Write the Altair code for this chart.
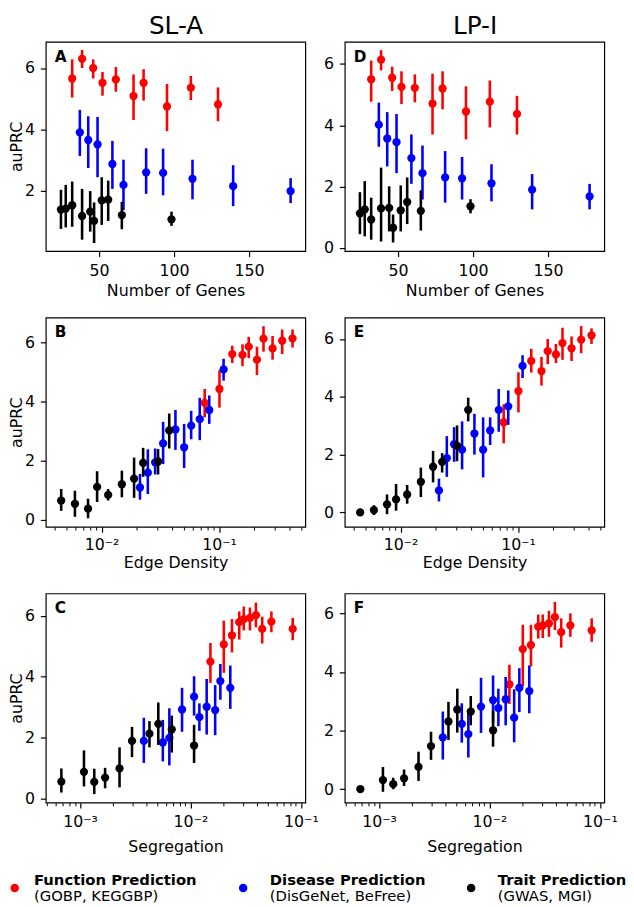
import altair as alt
import pandas as pd

GROUPS = ["Function Prediction", "Disease Prediction", "Trait Prediction"]
SUBLABELS = ["(GOBP, KEGGBP)", "(DisGeNet, BeFree)", "(GWAS, MGI)"]
COLORS = ["#ff0000", "#0000ff", "#000000"]
COLUMN_TITLES = ["SL-A", "LP-I"]

# ---- x values (shared by both networks) ----
GENES_FUNC = [32.1, 38.7, 46.1, 52.3, 61.2, 73.0, 79.7, 95.3, 111.2, 129.3]
GENES_DISEASE = [37.2, 42.8, 49.0, 58.9, 66.3, 81.4, 92.7, 112.3, 139.4, 177.7]
GENES_TRAIT = [24.6, 27.8, 32.1, 38.7, 44.1, 46.7, 51.8, 56.1, 65.2, 98.3]

EDGE_FUNC = [0.0755, 0.1009, 0.1297, 0.1585, 0.1791, 0.2104, 0.2393, 0.2858, 0.3451, 0.4227]
EDGE_DISEASE = [0.02123, 0.02477, 0.02858, 0.03342, 0.04256, 0.05047, 0.05794, 0.06855, 0.0826, 0.1094]
EDGE_TRAIT = [0.00453, 0.00593, 0.00767, 0.00916, 0.01138, 0.01489, 0.01892, 0.02259, 0.03027, 0.03767]

SEG_FUNC = [0.01517, 0.02005, 0.02377, 0.02767, 0.03041, 0.03459, 0.03917, 0.04467, 0.05408, 0.08433]
SEG_DISEASE = [0.003784, 0.005623, 0.006442, 0.008395, 0.01079, 0.01205, 0.01403, 0.01675, 0.01866, 0.02296]
SEG_TRAIT = [0.000678, 0.001086, 0.001346, 0.001687, 0.00228, 0.002958, 0.004256, 0.005117, 0.006776, 0.01079]

# ---- Panel A (SL-A, Number of Genes) ----
A_FUNC = [5.66, 6.30, 6.00, 5.52, 5.63, 5.09, 5.52, 4.75, 5.36, 4.82]
A_FUNC_LO = [5.04, 6.00, 5.66, 5.10, 5.23, 4.31, 4.94, 3.95, 4.96, 4.27]
A_FUNC_HI = [6.28, 6.59, 6.28, 5.87, 6.03, 5.79, 5.96, 5.48, 5.74, 5.37]
A_DIS = [3.91, 3.66, 3.52, 2.88, 2.20, 2.61, 2.59, 2.40, 2.16, 2.00]
A_DIS_LO = [3.14, 2.75, 2.45, 2.07, 1.38, 1.91, 1.86, 1.73, 1.51, 1.61]
A_DIS_HI = [4.64, 4.43, 4.41, 3.63, 3.02, 3.39, 3.38, 3.02, 2.84, 2.42]
A_TRAIT = [1.40, 1.43, 1.54, 1.19, 1.33, 1.03, 1.70, 1.72, 1.22, 1.08]
A_TRAIT_LO = [0.77, 0.82, 0.84, 0.42, 0.68, 0.31, 0.90, 1.03, 0.76, 0.87]
A_TRAIT_HI = [2.04, 2.20, 2.31, 2.07, 2.00, 1.63, 2.45, 2.34, 1.65, 1.33]

# ---- Panel D (LP-I, Number of Genes) ----
D_FUNC = [5.50, 6.14, 5.55, 5.25, 5.22, 4.71, 5.20, 4.45, 4.77, 4.37]
D_FUNC_LO = [4.77, 5.79, 5.12, 4.69, 4.75, 3.70, 4.52, 3.54, 3.93, 3.70]
D_FUNC_HI = [6.11, 6.45, 5.91, 5.76, 5.66, 5.68, 5.76, 5.27, 5.46, 4.96]
D_DIS = [4.02, 3.57, 3.45, 2.93, 2.44, 2.30, 2.27, 2.11, 1.90, 1.68]
D_DIS_LO = [3.30, 2.66, 2.44, 2.09, 1.58, 1.48, 1.58, 1.52, 1.26, 1.26]
D_DIS_HI = [4.74, 4.43, 4.37, 3.70, 3.34, 3.16, 2.97, 2.73, 2.41, 2.09]
D_TRAIT = [1.13, 1.26, 0.93, 1.29, 1.31, 0.66, 1.23, 1.50, 1.21, 1.36]
D_TRAIT_LO = [0.45, 0.38, 0.27, 0.21, 0.54, 0.18, 0.54, 0.78, 0.57, 1.13]
D_TRAIT_HI = [1.82, 2.18, 1.64, 2.62, 2.01, 1.09, 2.04, 2.30, 1.88, 1.59]

# ---- Panel B (SL-A, Edge Density) ----
B_FUNC = [3.96, 4.43, 5.61, 5.58, 5.86, 5.42, 6.13, 5.80, 6.06, 6.14]
B_FUNC_LO = [3.47, 3.80, 5.31, 5.20, 5.47, 4.90, 5.69, 5.42, 5.61, 5.83]
B_FUNC_HI = [4.43, 5.06, 5.89, 5.94, 6.19, 5.86, 6.55, 6.22, 6.44, 6.44]
B_DIS = [1.10, 1.60, 1.95, 2.59, 3.06, 2.46, 3.19, 3.41, 3.72, 5.09]
B_DIS_LO = [0.69, 0.88, 1.54, 1.89, 2.37, 1.76, 2.73, 2.70, 3.25, 4.71]
B_DIS_HI = [1.56, 2.39, 2.42, 3.32, 3.72, 3.25, 3.69, 4.13, 4.21, 5.45]
B_TRAIT = [0.66, 0.55, 0.385, 1.12, 0.85, 1.21, 1.40, 1.93, 1.98, 3.03]
B_TRAIT_LO = [0.31, 0.11, 0.06, 0.61, 0.66, 0.77, 0.75, 1.46, 1.54, 2.42]
B_TRAIT_HI = [1.05, 0.99, 0.72, 1.65, 1.05, 1.67, 2.11, 2.44, 2.40, 3.60]

# ---- Panel E (LP-I, Edge Density) ----
E_FUNC = [3.12, 4.20, 5.24, 4.89, 5.58, 5.47, 5.86, 5.68, 5.98, 6.13]
E_FUNC_LO = [2.39, 3.46, 4.84, 4.39, 5.13, 5.17, 5.28, 5.24, 5.51, 5.83]
E_FUNC_HI = [3.74, 4.85, 5.66, 5.38, 6.00, 5.83, 6.39, 6.09, 6.45, 6.37]
E_DIS = [0.76, 1.88, 2.36, 2.17, 2.73, 2.17, 2.84, 3.55, 3.67, 5.07]
E_DIS_LO = [0.38, 1.23, 1.75, 1.49, 2.00, 1.21, 2.33, 2.79, 3.03, 4.65]
E_DIS_HI = [1.17, 2.64, 2.95, 3.15, 3.41, 3.29, 3.29, 4.27, 4.22, 5.44]
E_TRAIT = [0.0, 0.08, 0.28, 0.45, 0.62, 1.06, 1.58, 1.75, 2.31, 3.55]
E_TRAIT_LO = [-0.08, -0.09, -0.06, 0.06, 0.30, 0.53, 1.04, 1.38, 1.77, 3.15]
E_TRAIT_HI = [0.08, 0.25, 0.62, 0.98, 0.95, 1.55, 2.13, 2.05, 3.01, 3.97]

# ---- Panel C (SL-A, Segregation) ----
C_FUNC = [4.50, 5.06, 5.36, 5.79, 5.89, 5.93, 6.02, 5.57, 5.81, 5.57]
C_FUNC_LO = [3.80, 4.13, 4.80, 5.22, 5.52, 5.52, 5.62, 5.09, 5.46, 5.20]
C_FUNC_HI = [5.11, 5.84, 5.89, 6.14, 6.30, 6.27, 6.43, 5.97, 6.14, 5.93]
C_DIS = [1.90, 1.85, 2.00, 2.93, 3.35, 2.68, 3.02, 2.91, 3.86, 3.64]
C_DIS_LO = [1.18, 1.23, 1.10, 2.20, 2.73, 2.23, 2.11, 2.09, 3.25, 2.95]
C_DIS_HI = [2.66, 2.59, 2.97, 3.64, 4.02, 3.13, 3.93, 3.73, 4.42, 4.37]
C_TRAIT = [0.57, 0.89, 0.56, 0.70, 1.00, 1.90, 2.14, 2.46, 2.28, 1.75]
C_TRAIT_LO = [0.21, 0.41, 0.16, 0.35, 0.38, 1.37, 1.69, 1.77, 1.52, 1.18]
C_TRAIT_HI = [1.00, 1.59, 0.99, 1.02, 1.69, 2.36, 2.55, 3.16, 2.73, 2.43]

# ---- Panel F (LP-I, Segregation) ----
F_FUNC = [3.58, 4.78, 4.92, 5.55, 5.59, 5.66, 5.87, 5.36, 5.59, 5.42]
F_FUNC_LO = [2.91, 3.52, 4.19, 5.14, 5.16, 5.20, 5.43, 4.83, 5.20, 5.03]
F_FUNC_HI = [4.25, 5.61, 5.61, 5.96, 5.96, 6.09, 6.39, 5.83, 6.00, 5.83]
F_DIS = [1.77, 2.23, 1.88, 2.82, 3.04, 2.77, 3.07, 2.44, 3.46, 3.35]
F_DIS_LO = [1.01, 1.59, 1.08, 1.92, 2.26, 2.15, 2.18, 1.60, 2.63, 2.59]
F_DIS_HI = [2.65, 2.93, 2.68, 3.80, 3.88, 3.43, 3.83, 3.41, 4.13, 4.22]
F_TRAIT = [0.0, 0.31, 0.17, 0.37, 0.76, 1.47, 2.31, 2.72, 2.65, 2.01]
F_TRAIT_LO = [-0.08, -0.09, 0.0, 0.11, 0.28, 1.00, 1.68, 1.93, 2.18, 1.45]
F_TRAIT_HI = [0.08, 0.76, 0.39, 0.67, 1.28, 1.96, 2.98, 3.43, 3.18, 2.68]

FONT = "DejaVu Sans"
W, H = 263, 212

X_GENES = dict(type="linear", domain=[14.5, 187.5], major=[50, 100, 150], minor=[],
               title="Number of Genes", label_pad=6, title_pad=4.5)
X_EDGE = dict(type="log", domain=[0.00335, 0.543], major=[0.01, 0.1],
              minor=[0.004, 0.005, 0.006, 0.007, 0.008, 0.009,
                     0.02, 0.03, 0.04, 0.05, 0.06, 0.07, 0.08, 0.09,
                     0.2, 0.3, 0.4, 0.5],
              title="Edge Density", label_pad=4, title_pad=2.5)
X_SEG = dict(type="log", domain=[0.00049, 0.1097], major=[0.001, 0.01, 0.1],
             minor=[0.0005, 0.0006, 0.0007, 0.0008, 0.0009,
                    0.002, 0.003, 0.004, 0.005, 0.006, 0.007, 0.008, 0.009,
                    0.02, 0.03, 0.04, 0.05, 0.06, 0.07, 0.08, 0.09],
             title="Segregation", label_pad=6, title_pad=9)

LOG_LABELS = ("datum.value < 0.005 ? '10\u207b\u00b3' : "
              "(datum.value < 0.05 ? '10\u207b\u00b2' : '10\u207b\u00b9')")


def make_df(xs, series):
    rows = []
    for g, x, (m, lo, hi) in zip(GROUPS, xs, series):
        for xi, mi, li, hi_ in zip(x, m, lo, hi):
            rows.append({"group": g, "x": xi, "mean": mi, "lo": li, "hi": hi_})
    return pd.DataFrame(rows)


def legend_layers():
    """Legend drawn below the bottom-left panel (positions relative to that panel)."""
    dot_x = [-31.5, 200, 431]
    text_x = [-12, 227, 458]
    out = []
    for gi in range(3):
        one = alt.Chart(pd.DataFrame({"label": [GROUPS[gi]], "sub": [SUBLABELS[gi]]}))
        out.append(one.mark_circle(size=75, opacity=1, color=COLORS[gi]).encode(
            x=alt.value(dot_x[gi]), y=alt.value(H + 86.5)))
        out.append(one.mark_text(align="left", baseline="middle", fontSize=15, fontWeight="bold",
                                 font=FONT, color="black").encode(
            x=alt.value(text_x[gi]), y=alt.value(H + 78.5), text="label:N"))
        out.append(one.mark_text(align="left", baseline="middle", fontSize=15,
                                 font=FONT, color="black").encode(
            x=alt.value(text_x[gi]), y=alt.value(H + 94.5), text="sub:N"))
    return out


def panel(letter, xs, series, xcfg, ydomain, yvalues, ytitle, title=None, legend=False):
    df = make_df(xs, series)
    xscale = alt.Scale(type=xcfg["type"], domain=xcfg["domain"], nice=False, zero=False)
    yscale = alt.Scale(domain=ydomain, nice=False, zero=False)
    yaxis = alt.Axis(values=yvalues, title=ytitle, titlePadding=0)

    major_kw = dict(values=xcfg["major"], title=xcfg["title"], orient="bottom",
                    labelPadding=xcfg["label_pad"], titlePadding=xcfg["title_pad"])
    if xcfg["type"] == "log":
        major_kw["labelExpr"] = LOG_LABELS
    major = alt.Axis(**major_kw)
    minor_vals = [v for v in xcfg["minor"] if xcfg["domain"][0] <= v <= xcfg["domain"][1]]
    minor = alt.Axis(values=minor_vals, labels=False, tickSize=3.2, tickWidth=1,
                     title=None, orient="bottom") if minor_vals else None

    layers = []
    for gi, g in enumerate(GROUPS):
        sub = alt.Chart(df).transform_filter(alt.datum.group == g)
        ax_rule = major if gi == 0 else None
        ax_pt = minor if gi == 0 else None
        rule = sub.mark_rule(strokeWidth=2.6, color=COLORS[gi]).encode(
            x=alt.X("x:Q", scale=xscale, axis=ax_rule),
            y=alt.Y("lo:Q", scale=yscale, axis=yaxis),
            y2="hi:Q",
        )
        pt = sub.mark_circle(size=70, opacity=1, color=COLORS[gi]).encode(
            x=alt.X("x:Q", scale=xscale, axis=ax_pt),
            y=alt.Y("mean:Q", scale=yscale, axis=yaxis),
        )
        layers += [rule, pt]

    lab = alt.Chart(pd.DataFrame({"t": [letter]})).mark_text(
        align="left", baseline="alphabetic", fontSize=15.5, fontWeight="bold",
        font=FONT, color="black"
    ).encode(text="t:N", x=alt.value(9), y=alt.value(20))
    layers.append(lab)

    if title is not None:
        ttl = alt.Chart(pd.DataFrame({"t": [title]})).mark_text(
            align="center", baseline="alphabetic", fontSize=25, font=FONT, color="black"
        ).encode(text="t:N", x=alt.value(W / 2 + 0.5), y=alt.value(-7.5))
        layers.append(ttl)

    if legend:
        layers += legend_layers()

    return alt.layer(*layers).resolve_axis(x="independent").properties(width=W, height=H)


pA = panel("A", [GENES_FUNC, GENES_DISEASE, GENES_TRAIT],
           [(A_FUNC, A_FUNC_LO, A_FUNC_HI), (A_DIS, A_DIS_LO, A_DIS_HI), (A_TRAIT, A_TRAIT_LO, A_TRAIT_HI)],
           X_GENES, [0.05, 6.85], [2, 4, 6], "auPRC", COLUMN_TITLES[0])
pD = panel("D", [GENES_FUNC, GENES_DISEASE, GENES_TRAIT],
           [(D_FUNC, D_FUNC_LO, D_FUNC_HI), (D_DIS, D_DIS_LO, D_DIS_HI), (D_TRAIT, D_TRAIT_LO, D_TRAIT_HI)],
           X_GENES, [-0.1, 6.72], [0, 2, 4, 6], None, COLUMN_TITLES[1])
pB = panel("B", [EDGE_FUNC, EDGE_DISEASE, EDGE_TRAIT],
           [(B_FUNC, B_FUNC_LO, B_FUNC_HI), (B_DIS, B_DIS_LO, B_DIS_HI), (B_TRAIT, B_TRAIT_LO, B_TRAIT_HI)],
           X_EDGE, [-0.23, 6.84], [0, 2, 4, 6], "auPRC")
pE = panel("E", [EDGE_FUNC, EDGE_DISEASE, EDGE_TRAIT],
           [(E_FUNC, E_FUNC_LO, E_FUNC_HI), (E_DIS, E_DIS_LO, E_DIS_HI), (E_TRAIT, E_TRAIT_LO, E_TRAIT_HI)],
           X_EDGE, [-0.5, 6.74], [0, 2, 4, 6], None)
pC = panel("C", [SEG_FUNC, SEG_DISEASE, SEG_TRAIT],
           [(C_FUNC, C_FUNC_LO, C_FUNC_HI), (C_DIS, C_DIS_LO, C_DIS_HI), (C_TRAIT, C_TRAIT_LO, C_TRAIT_HI)],
           X_SEG, [-0.12, 6.73], [0, 2, 4, 6], "auPRC", legend=True)
pF = panel("F", [SEG_FUNC, SEG_DISEASE, SEG_TRAIT],
           [(F_FUNC, F_FUNC_LO, F_FUNC_HI), (F_DIS, F_DIS_LO, F_DIS_HI), (F_TRAIT, F_TRAIT_LO, F_TRAIT_HI)],
           X_SEG, [-0.46, 6.68], [0, 2, 4, 6], None)

chart = alt.concat(pA, pD, pB, pE, pC, pF, columns=2,
                   spacing={"row": 67.5, "column": 40}, bounds="flush").properties(
    padding={"left": -0.7, "top": -0.75, "right": -1, "bottom": 0}
).configure_view(stroke="black", strokeWidth=1.2).configure_axis(
    labelFont=FONT, labelFontSize=16, labelColor="black",
    titleFont=FONT, titleFontSize=16, titleFontWeight="normal", titleColor="black",
    tickColor="black", tickSize=5.5, tickWidth=1.2, labelPadding=6,
    domain=False, grid=False, labelFlush=False, labelOverlap=False
).configure_text(font=FONT)

chart.save("out.html", embed_options={"renderer": "svg", "actions": False})
